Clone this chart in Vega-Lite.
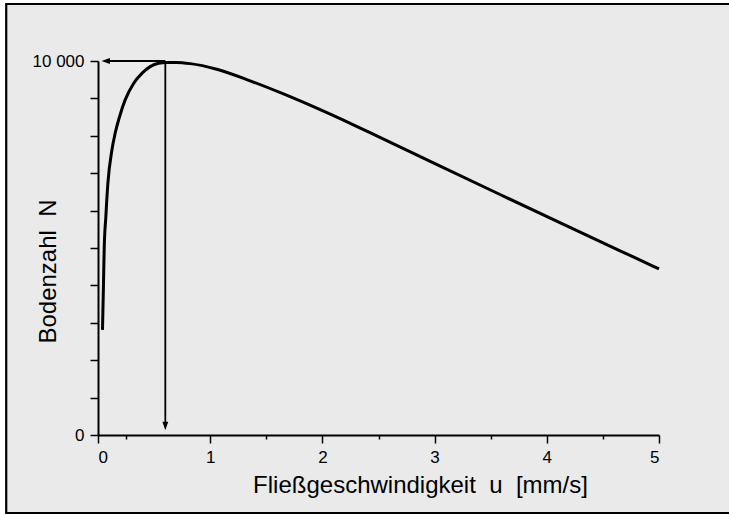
{
  "$schema": "https://vega.github.io/schema/vega-lite/v6.json",
  "autosize": {"type": "none"},
  "padding": {"left": 98, "top": 61, "right": 70, "bottom": 80},
  "width": 561,
  "height": 374,
  "background": "white",
  "config": {
    "view": {"stroke": null},
    "font": "Liberation Sans",
    "axis": {
      "grid": false,
      "domainColor": "black",
      "domainWidth": 2,
      "tickColor": "black",
      "tickWidth": 1.5,
      "labelColor": "black",
      "labelFont": "Liberation Sans",
      "titleFont": "Liberation Sans",
      "titleColor": "black",
      "titleFontWeight": "normal",
      "titleFontSize": 24
    }
  },
  "datasets": {
    "frame": [{"u": -0.818, "u2": 5.64, "N": 11524, "N2": -2086}],
    "curve": [
      {"u": 0.040, "N": 2810},
      {"u": 0.049, "N": 4050},
      {"u": 0.055, "N": 4950},
      {"u": 0.070, "N": 5840},
      {"u": 0.088, "N": 6730},
      {"u": 0.124, "N": 7620},
      {"u": 0.153, "N": 8070},
      {"u": 0.192, "N": 8510},
      {"u": 0.242, "N": 8960},
      {"u": 0.317, "N": 9400},
      {"u": 0.391, "N": 9670},
      {"u": 0.465, "N": 9850},
      {"u": 0.540, "N": 9940},
      {"u": 0.608, "N": 9960},
      {"u": 0.700, "N": 9960},
      {"u": 0.821, "N": 9930},
      {"u": 1.059, "N": 9780},
      {"u": 1.356, "N": 9470},
      {"u": 1.653, "N": 9120},
      {"u": 1.950, "N": 8740},
      {"u": 2.187, "N": 8420},
      {"u": 2.396, "N": 8125},
      {"u": 2.989, "N": 7275},
      {"u": 3.583, "N": 6430},
      {"u": 4.178, "N": 5590},
      {"u": 4.771, "N": 4760},
      {"u": 5.000, "N": 4440}
    ],
    "hrule": [{"u": 0.069, "u2": 0.6, "N": 10000}],
    "vrule": [{"u": 0.6, "N": 10000, "N2": 240}],
    "headLeft": [{"u": 0.069, "N": 10000}],
    "headDown": [{"u": 0.6, "N": 240}]
  },
  "encoding": {
    "x": {
      "field": "u", "type": "quantitative",
      "scale": {"domain": [0, 5], "nice": false, "zero": false},
      "axis": {
        "zindex": 2,
        "values": [0, 0.25, 1, 1.5, 2, 2.5, 3, 3.5, 4, 4.5, 5],
        "labelExpr": "datum.value % 1 === 0 ? format(datum.value, 'd') : ''",
        "labelOverlap": false,
        "tickSize": {"condition": {"test": "datum.value % 1 === 0", "value": 8}, "value": 4},
        "labelFontSize": 17,
        "labelPadding": 6,
        "title": "Fließgeschwindigkeit\u00a0\u00a0u\u00a0\u00a0[mm/s]",
        "titleX": 322,
        "titleY": 57,
        "titleAlign": "center",
        "titleBaseline": "alphabetic"
      }
    },
    "y": {
      "field": "N", "type": "quantitative",
      "scale": {"domain": [0, 10000], "nice": false, "zero": false},
      "axis": {
        "zindex": 2,
        "values": [0, 1000, 2000, 3000, 4000, 5000, 6000, 7000, 8000, 9000, 10000],
        "labelExpr": "datum.value === 10000 ? '10 000' : (datum.value === 0 ? '0' : '')",
        "labelOverlap": false,
        "tickSize": 8,
        "labelFontSize": 17,
        "labelPadding": 6,
        "title": "Bodenzahl\u00a0\u00a0N",
        "titleX": -43,
        "titleY": 210,
        "titleAngle": 270,
        "titleAlign": "center",
        "titleBaseline": "alphabetic"
      }
    }
  },
  "layer": [
    {
      "data": {"name": "frame"},
      "mark": {"type": "rect", "fill": "#EAEAEA", "stroke": "black", "strokeWidth": 2.2, "clip": false},
      "encoding": {
        "x2": {"field": "u2"},
        "y2": {"field": "N2"}
      }
    },
    {
      "data": {"name": "curve"},
      "mark": {"type": "line", "color": "black", "strokeWidth": 3, "interpolate": "monotone", "clip": false}
    },
    {
      "data": {"name": "hrule"},
      "mark": {"type": "rule", "color": "black", "strokeWidth": 1.8},
      "encoding": {
        "x2": {"field": "u2"}
      }
    },
    {
      "data": {"name": "vrule"},
      "mark": {"type": "rule", "color": "black", "strokeWidth": 1.8},
      "encoding": {
        "y2": {"field": "N2"}
      }
    },
    {
      "data": {"name": "headLeft"},
      "mark": {"type": "point", "shape": "M-1,0L1,-0.7L1,0.7Z", "filled": true, "color": "black", "opacity": 1, "size": 70},
      "encoding": {}
    },
    {
      "data": {"name": "headDown"},
      "mark": {"type": "point", "shape": "M0,1L-0.7,-1L0.7,-1Z", "filled": true, "color": "black", "opacity": 1, "size": 70},
      "encoding": {}
    }
  ]
}
